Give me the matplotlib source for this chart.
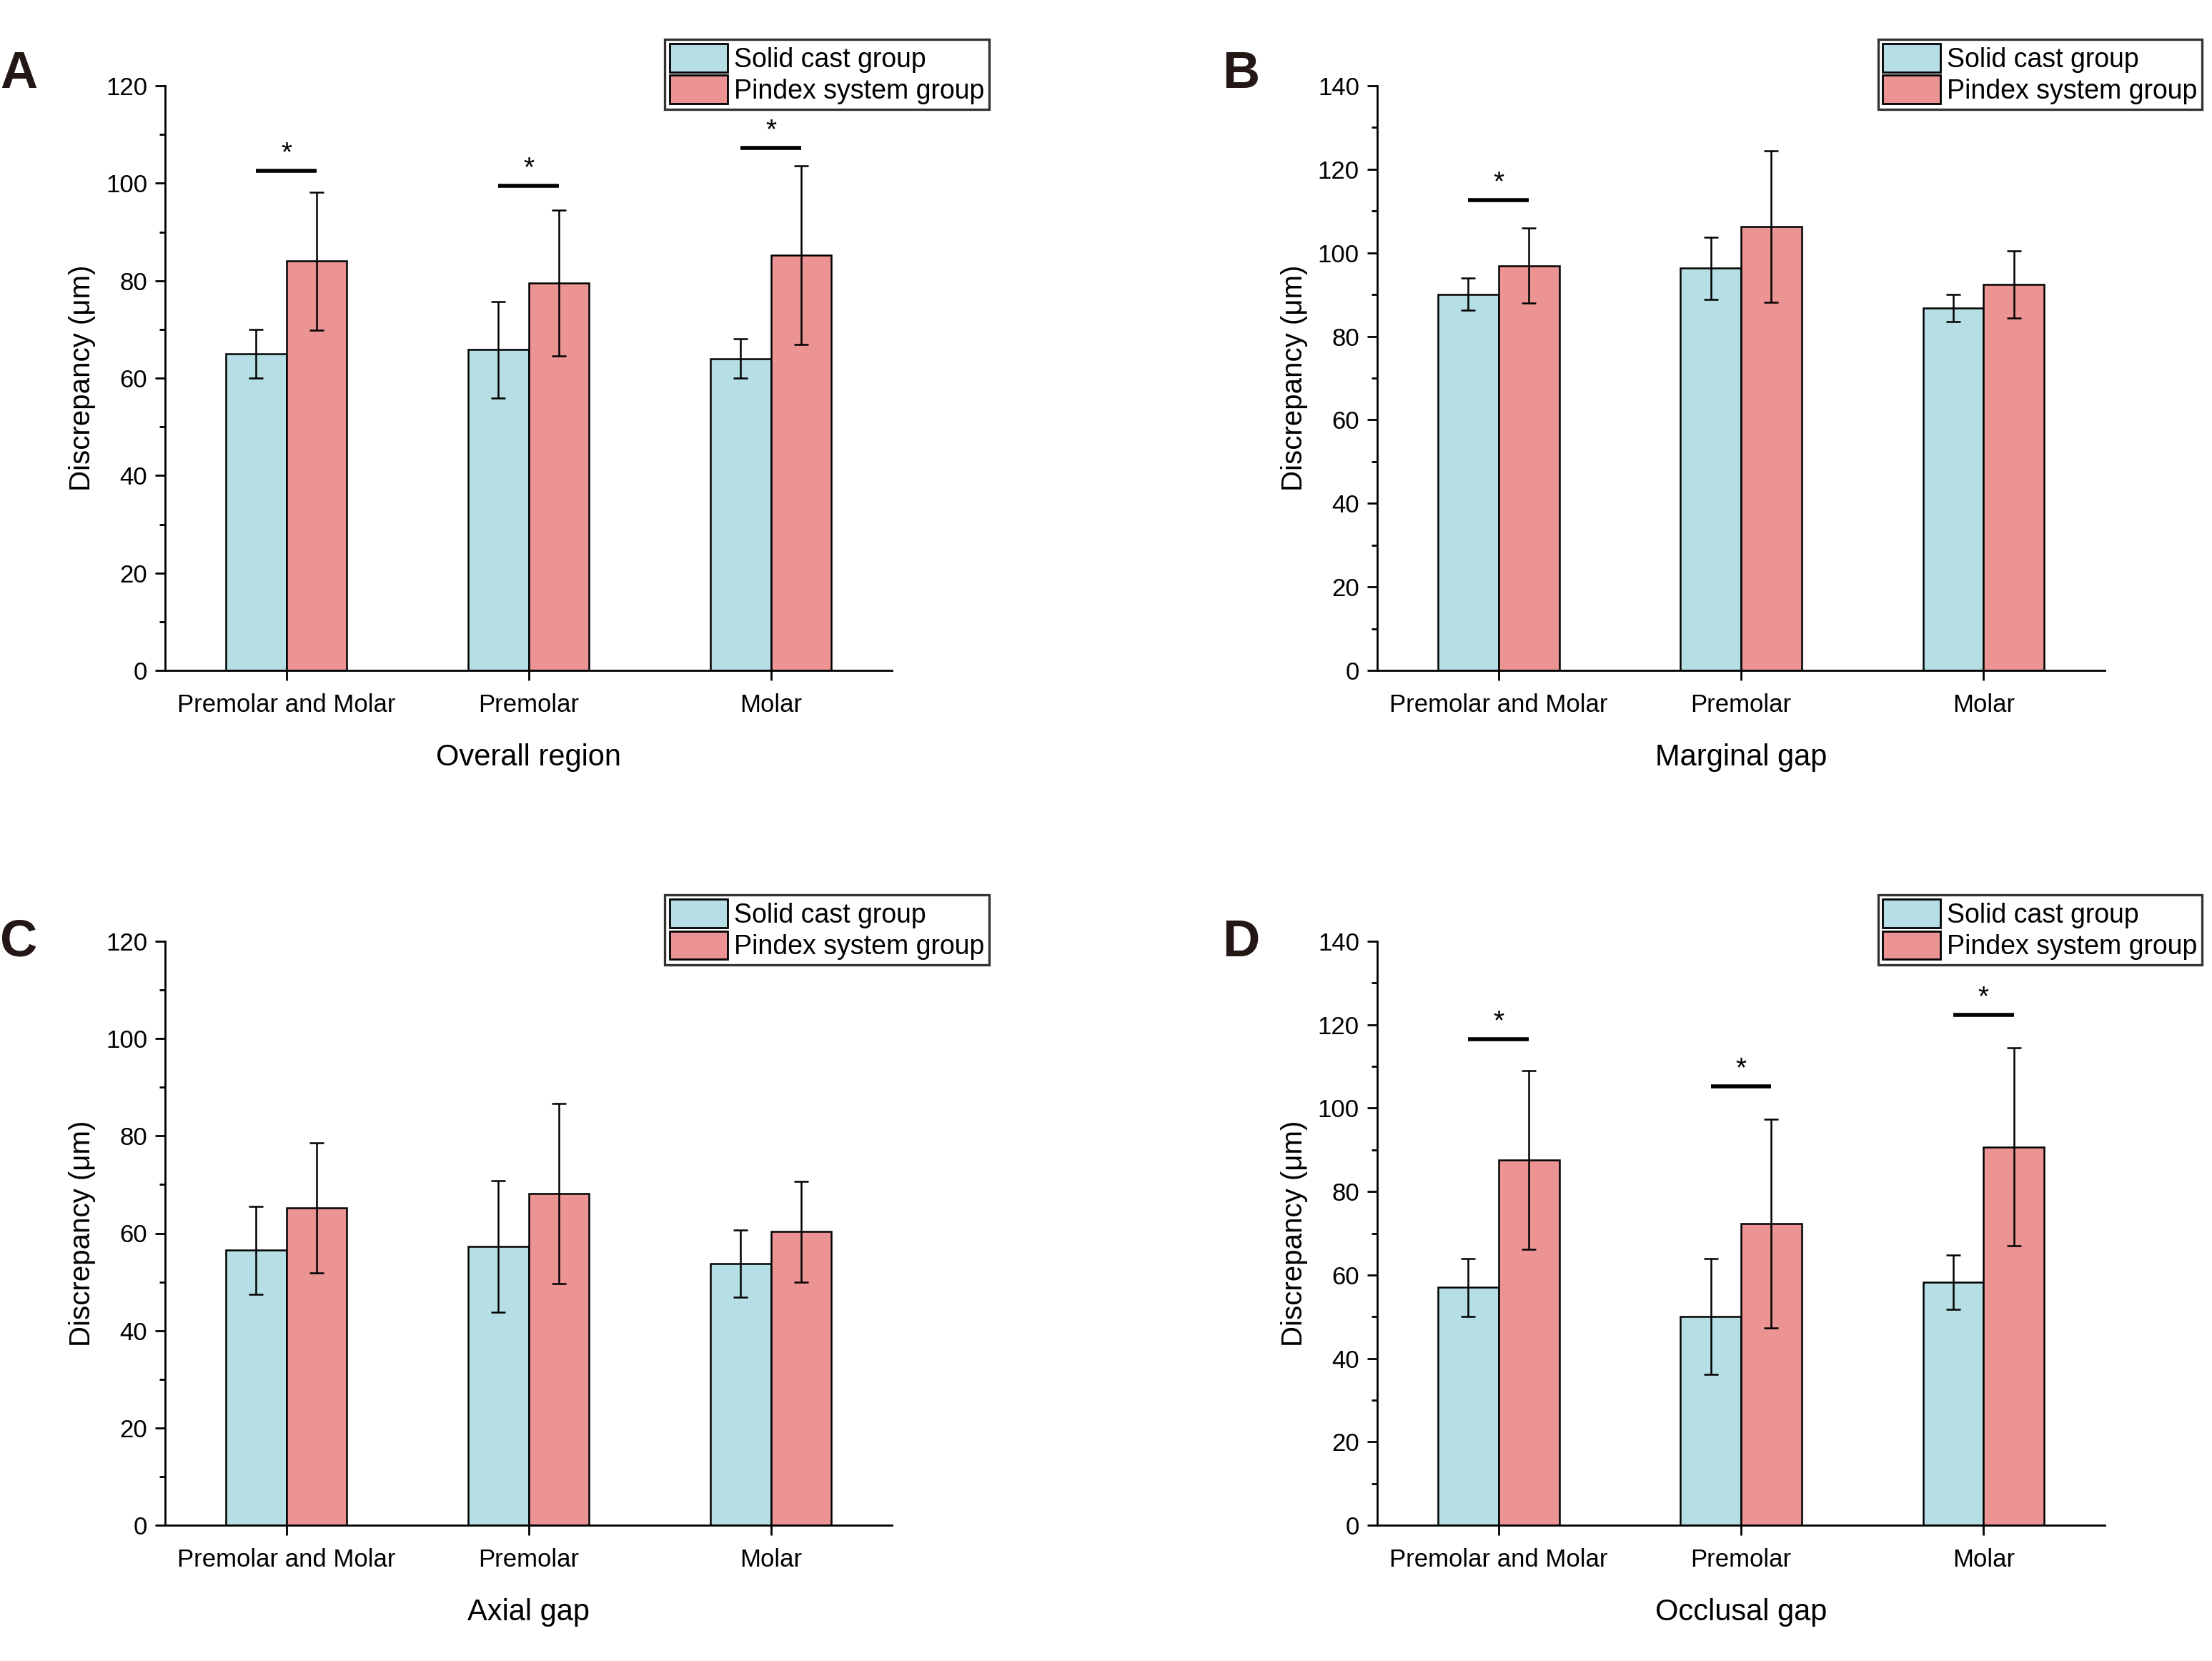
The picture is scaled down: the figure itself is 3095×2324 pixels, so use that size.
import matplotlib
matplotlib.use("Agg")
import matplotlib.pyplot as plt
import numpy as np
from matplotlib.ticker import MultipleLocator
from matplotlib.patches import Patch

plt.rcParams['font.family'] = ['Liberation Sans', 'DejaVu Sans']

categories = ['Premolar and Molar', 'Premolar', 'Molar']
groups = ['Solid cast group', 'Pindex system group']

# means and SD (um)
overall_solid = [65.0, 65.8, 64.0]
overall_solid_sd = [5.0, 9.9, 4.0]
overall_pindex = [84.0, 79.5, 85.2]
overall_pindex_sd = [14.2, 15.0, 18.3]
overall_sig = [102.6, 99.5, 107.3]

marginal_solid = [90.1, 96.3, 86.8]
marginal_solid_sd = [3.9, 7.4, 3.2]
marginal_pindex = [96.9, 106.3, 92.4]
marginal_pindex_sd = [9.0, 18.2, 8.0]
marginal_sig = [112.6, None, None]

axial_solid = [56.5, 57.3, 53.7]
axial_solid_sd = [9.0, 13.5, 6.9]
axial_pindex = [65.2, 68.1, 60.3]
axial_pindex_sd = [13.4, 18.5, 10.4]
axial_sig = [None, None, None]

occlusal_solid = [57.0, 50.1, 58.3]
occlusal_solid_sd = [7.0, 13.9, 6.5]
occlusal_pindex = [87.6, 72.3, 90.7]
occlusal_pindex_sd = [21.4, 25.0, 23.7]
occlusal_sig = [116.5, 105.2, 122.4]

panels = [
    ('A', 'Overall region', 120, 20, overall_solid, overall_solid_sd, overall_pindex, overall_pindex_sd, overall_sig),
    ('B', 'Marginal gap', 140, 20, marginal_solid, marginal_solid_sd, marginal_pindex, marginal_pindex_sd, marginal_sig),
    ('C', 'Axial gap', 120, 20, axial_solid, axial_solid_sd, axial_pindex, axial_pindex_sd, axial_sig),
    ('D', 'Occlusal gap', 140, 20, occlusal_solid, occlusal_solid_sd, occlusal_pindex, occlusal_pindex_sd, occlusal_sig),
]

col_solid = '#b5dfe4'
col_pindex = '#ec9494'

W, H = 3095, 2324
fig = plt.figure(figsize=(W / 200, H / 200), dpi=200)

# axes boxes in pixels: left, right, top, bottom
boxes = [(231, 1248, 120, 938), (1927, 2945, 120, 938),
         (231, 1248, 1317, 2134), (1927, 2945, 1317, 2134)]
letter_pos = [(0, 123), (1710, 123), (0, 1338), (1710, 1338)]

x = np.arange(1, len(categories) + 1)
w = 0.25

for i, (letter, xlabel, ymax, step, s, s_sd, p, p_sd, sig) in enumerate(panels):
    l, r, t, b = boxes[i]
    ax = fig.add_axes([l / W, 1 - b / H, (r - l) / W, (b - t) / H])

    ek = dict(ecolor='black', elinewidth=0.9, capsize=3.5, capthick=0.9)
    ax.bar(x - w / 2, s, w, yerr=s_sd, color=col_solid, edgecolor='black',
           linewidth=0.9, error_kw=ek, zorder=2)
    ax.bar(x + w / 2, p, w, yerr=p_sd, color=col_pindex, edgecolor='black',
           linewidth=0.9, error_kw=ek, zorder=2)

    for xi, yv in zip(x, sig):
        if yv is None:
            continue
        ax.plot([xi - w / 2, xi + w / 2], [yv, yv], color='black', lw=2.0,
                solid_capstyle='butt', zorder=3)
        ax.annotate('*', (xi, yv), xytext=(0, 2), textcoords='offset points',
                    ha='center', va='bottom', fontsize=14)

    ax.set_xlim(0.5, 3.5)
    ax.set_ylim(0, ymax)
    ax.set_xticks(x)
    ax.set_xticklabels(categories, fontsize=12.5)
    ax.yaxis.set_major_locator(MultipleLocator(step))
    ax.yaxis.set_minor_locator(MultipleLocator(step / 2))
    ax.tick_params(axis='y', labelsize=12.5, width=1.0, length=5, pad=4)
    ax.tick_params(axis='y', which='minor', width=1.0, length=3)
    ax.tick_params(axis='x', width=1.0, length=5, pad=6.5)
    for sp in ['top', 'right']:
        ax.spines[sp].set_visible(False)
    for sp in ['left', 'bottom']:
        ax.spines[sp].set_linewidth(1.0)

    ax.set_xlabel(xlabel, fontsize=15, labelpad=13.5)
    ax.set_ylabel('Discrepancy (\u03bcm)', fontsize=14.5, labelpad=5)

    handles = [Patch(facecolor=col_solid, edgecolor='black', linewidth=1.0),
               Patch(facecolor=col_pindex, edgecolor='black', linewidth=1.0)]
    leg = ax.legend(handles, groups, loc='upper right', bbox_to_anchor=(1.134, 1.08),
                    fontsize=13.5, frameon=True, fancybox=False, shadow=False,
                    edgecolor='black', handlelength=2.15, handleheight=1.25,
                    labelspacing=0.1, handletextpad=0.25, borderpad=0.18,
                    borderaxespad=0)
    leg.get_frame().set_linewidth(1.2)

    lx, ly = letter_pos[i]
    fig.text(lx / W, 1 - ly / H, letter, fontsize=26, fontweight='bold',
             ha='left', va='baseline', color='#231815')

fig.savefig('out.png', dpi=200)
